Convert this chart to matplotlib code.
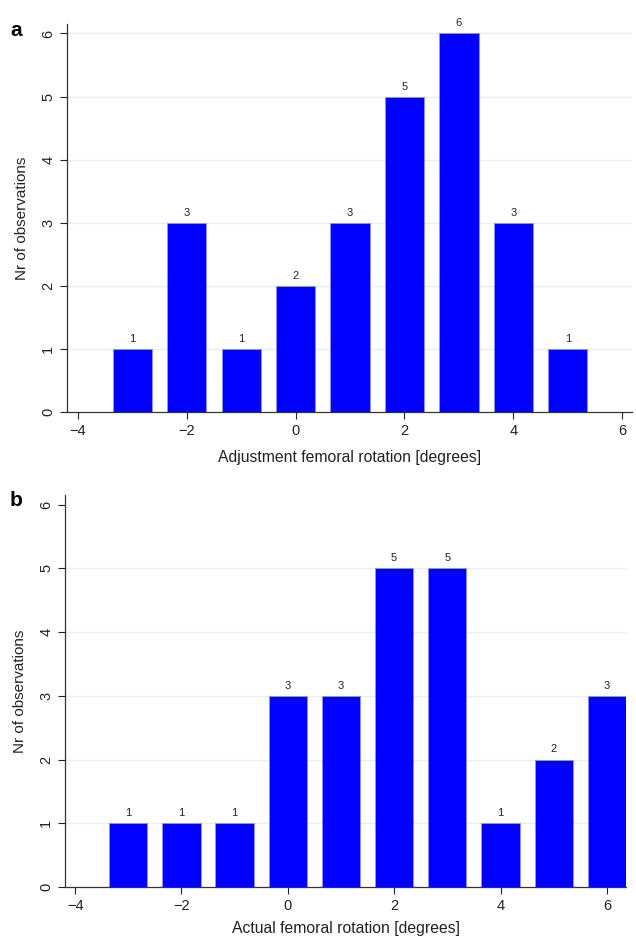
import matplotlib.pyplot as plt

plt.rcParams['font.family'] = ['Liberation Sans', 'DejaVu Sans']

# panel a: adjustment of femoral rotation
adj_deg = [-3, -2, -1, 0, 1, 2, 3, 4, 5]
adj_count = [1, 3, 1, 2, 3, 5, 6, 3, 1]

# panel b: actual femoral rotation
act_deg = [-3, -2, -1, 0, 1, 2, 3, 4, 5, 6]
act_count = [1, 1, 1, 3, 3, 5, 5, 1, 2, 3]

xticks = [-4, -2, 0, 2, 4, 6]
yticks = [0, 1, 2, 3, 4, 5, 6]

fig = plt.figure(figsize=(6.36, 9.36), dpi=100)
W, H = 636.0, 936.0

def panel(rect, degs, counts, xlabel, letter, xlim, gridmax, xpad):
    left, top, right, bottom = rect
    ax = fig.add_axes([left / W, 1 - bottom / H, (right - left) / W, (bottom - top) / H])
    for g in yticks[1:gridmax + 1]:
        ax.axhline(g, color='#e8eff1', lw=1.0, zorder=0)
    ax.bar(degs, counts, width=0.72, color='#0000ff', edgecolor='#9090ff', lw=0.6, zorder=2)
    for d, c in zip(degs, counts):
        ax.text(d, c + 0.08, str(c), ha='center', va='bottom', fontsize=8, color='#222222')
    ax.set_xlim(*xlim)
    ax.set_ylim(0, 6.15)
    ax.set_xticks(xticks)
    ax.set_yticks(yticks)
    ax.set_xticklabels(['\u22124', '\u22122', '0', '2', '4', '6'])
    for lab in ax.get_yticklabels():
        lab.set_rotation(90)
        lab.set_va('center')
    ax.tick_params(labelsize=10.5, colors='#222222', length=5, width=0.8, direction='out')
    ax.spines['top'].set_visible(False)
    ax.spines['right'].set_visible(False)
    for s in ('left', 'bottom'):
        ax.spines[s].set_color('#333333')
        ax.spines[s].set_linewidth(0.9)
    ax.set_xlabel(xlabel, fontsize=11.3, color='#222222', labelpad=xpad)
    ax.set_ylabel('Nr of observations', fontsize=11, color='#222222', labelpad=9)
    fig.text(10 / W, 1 - (top + 6) / H, letter, fontsize=15, fontweight='bold', va='center')
    return ax

panel((67, 24, 632, 412), adj_deg, adj_count,
      'Adjustment femoral rotation [degrees]', 'a', (-4.2, 6.18), 6, 9)
panel((65, 495, 626, 887), act_deg, act_count,
      'Actual femoral rotation [degrees]', 'b', (-4.19, 6.36), 5, 6)

fig.savefig('out.png', dpi=100)
